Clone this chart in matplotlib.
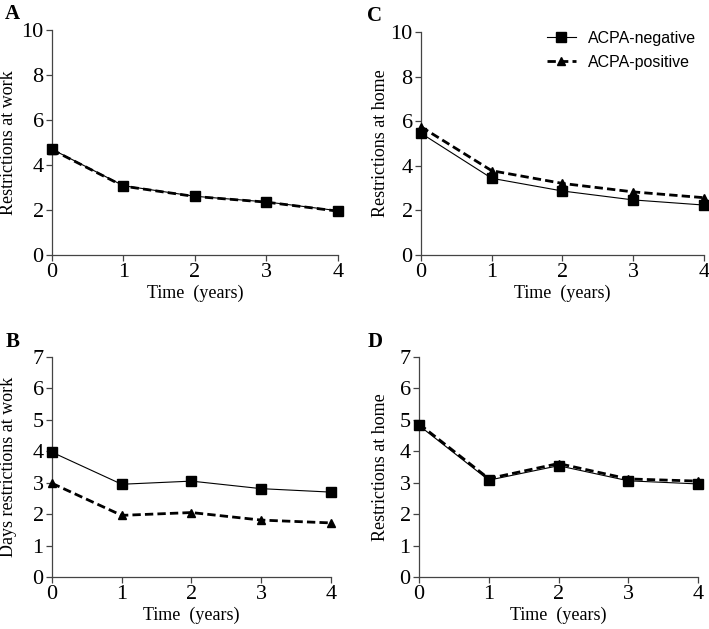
import matplotlib.pyplot as plt

years = [0, 1, 2, 3, 4]

# panel A: restrictions at work
a_neg = [4.70, 3.08, 2.61, 2.36, 1.97]
a_pos = [4.68, 3.06, 2.60, 2.35, 1.95]
# panel C: restrictions at home
c_neg = [5.46, 3.44, 2.87, 2.47, 2.24]
c_pos = [5.75, 3.78, 3.21, 2.83, 2.57]
# panel B: days restrictions at work
b_neg = [3.97, 2.95, 3.05, 2.81, 2.70]
b_pos = [2.98, 1.96, 2.05, 1.81, 1.72]
# panel D: days restrictions at home
d_neg = [4.82, 3.08, 3.54, 3.06, 2.96]
d_pos = [4.87, 3.13, 3.61, 3.12, 3.05]

serif = 'Liberation Serif'
sans = 'Liberation Sans'

fig = plt.figure(figsize=(7.09, 6.29), dpi=100)

def panel(rect, neg, pos, ymax, ylabel, letter, labx, letx, legend=False):
    ax = fig.add_axes(rect)
    ax.plot(years, pos, color='black', lw=2.0, ls=(0, (3, 1.5)), marker='^',
            ms=6, clip_on=False, zorder=3, label='ACPA-positive')
    ax.plot(years, neg, color='black', lw=0.8, marker='s', ms=7,
            clip_on=False, zorder=4, label='ACPA-negative')
    ax.set_xlim(0, 4)
    ax.set_ylim(0, ymax)
    ax.set_xticks(years)
    if ymax == 10:
        ax.set_yticks(range(0, 11, 2))
    else:
        ax.set_yticks(range(0, 8))
    for s in ['top', 'right']:
        ax.spines[s].set_visible(False)
    for s in ['left', 'bottom']:
        ax.spines[s].set_color('#444444')
        ax.spines[s].set_linewidth(0.9)
    ax.tick_params(direction='out', length=4, width=0.9, color='#444444',
                   labelsize=16, pad=2)
    for t in ax.get_xticklabels() + ax.get_yticklabels():
        t.set_fontfamily(serif)
    ax.set_xlabel('Time  (years)', fontfamily=serif, fontsize=13, labelpad=2)
    ax.set_ylabel(ylabel, fontfamily=serif, fontsize=13)
    ax.yaxis.set_label_coords(labx, 0.5)
    ax.text(letx, 1.07, letter, transform=ax.transAxes, fontfamily=serif,
            fontweight='bold', fontsize=15, ha='left', va='center')
    if legend:
        h, l = ax.get_legend_handles_labels()
        ax.legend(h[::-1], l[::-1], loc='upper right', frameon=False,
                  prop={'family': sans, 'size': 11.5}, handlelength=1.8,
                  bbox_to_anchor=(1.025, 1.07), labelspacing=0.55)
    return ax

panel([0.0733, 0.5946, 0.403, 0.3577], a_neg, a_pos, 10, 'Restrictions at work', 'A', -0.122, -0.165)
panel([0.5938, 0.5946, 0.399, 0.3545], c_neg, c_pos, 10, 'Restrictions at home', 'C', -0.113, -0.19, legend=True)
panel([0.0733, 0.0827, 0.3935, 0.3498], b_neg, b_pos, 7, 'Days restrictions at work', 'B', -0.125, -0.165)
panel([0.5910, 0.0827, 0.3935, 0.3498], d_neg, d_pos, 7, 'Restrictions at home', 'D', -0.107, -0.186)

fig.savefig('out.png', dpi=100)
